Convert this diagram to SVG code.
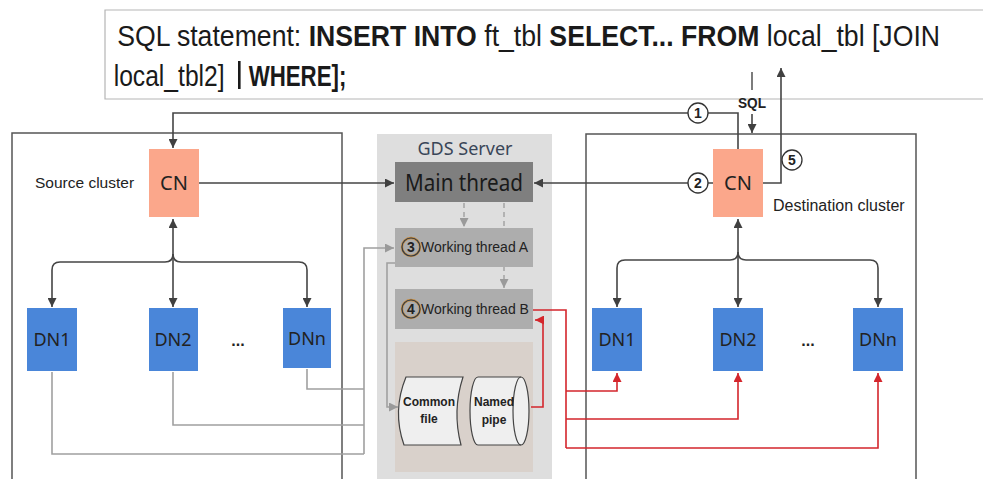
<svg xmlns="http://www.w3.org/2000/svg" width="983" height="479" viewBox="0 0 983 479">
  <defs>
    <marker id="aD" viewBox="0 0 10 10" refX="10" refY="5" markerWidth="9" markerHeight="9" markerUnits="userSpaceOnUse" orient="auto">
      <path d="M0,0 L10,5 L0,10 z" fill="#404040"/>
    </marker>
    <marker id="aG" viewBox="0 0 10 10" refX="10" refY="5" markerWidth="9" markerHeight="9" markerUnits="userSpaceOnUse" orient="auto">
      <path d="M0,0 L10,5 L0,10 z" fill="#9a9a9a"/>
    </marker>
    <marker id="aR" viewBox="0 0 10 10" refX="10" refY="5" markerWidth="9" markerHeight="9" markerUnits="userSpaceOnUse" orient="auto">
      <path d="M0,0 L10,5 L0,10 z" fill="#d4262c"/>
    </marker>
  </defs>
  <style>
    .sans { font-family: "Liberation Sans", Arial, sans-serif; }
    .hum { font-family: "Noto Sans", "Open Sans", sans-serif; }
    .hd { font-family: "Liberation Sans", Arial, sans-serif; font-size: 30px; fill: #1a1a1a; }
    .b { font-weight: bold; }
    .dk { fill: none; stroke: #454545; stroke-width: 1.6; }
    .gr { fill: none; stroke: #a0a0a0; stroke-width: 1.6; }
    .gd { fill: none; stroke: #a0a0a0; stroke-width: 1.4; stroke-dasharray: 5 4; }
    .rd { fill: none; stroke: #d4262c; stroke-width: 1.6; }
    .cn { fill: #fba78b; }
    .dn { fill: #4a86d9; }
    .lbl { fill: #222; }
    .num { fill: #fff; stroke: #333; stroke-width: 1.3; }
    .numT { font-family: "Liberation Sans", Arial, sans-serif; font-size: 14px; font-weight: bold; fill: #222; text-anchor: middle; }
  </style>

  <rect width="983" height="479" fill="#ffffff"/>

  <!-- header SQL statement -->
  <g id="header">
    <path d="M983,10 H105 V99 H983" fill="none" stroke="#b5b5b5" stroke-width="1.2"/>
    <g transform="scale(0.888,1)">
      <text class="hd" x="132" y="46">SQL statement: <tspan class="b">INSERT INTO</tspan> ft_tbl <tspan class="b">SELECT... FROM</tspan> local_tbl [JOIN</text>
      <text class="hd" x="128" y="86" textLength="125" lengthAdjust="spacingAndGlyphs">local_tbl2]</text>
      <text class="hd b" x="280" y="86" textLength="110" lengthAdjust="spacingAndGlyphs">WHERE];</text>
    </g>
    <rect x="238" y="61" width="2.6" height="28" fill="#1a1a1a"/>
  </g>

  <!-- cluster containers -->
  <g id="source-cluster">
    <path d="M12,479 V133 H342 V479" fill="none" stroke="#555" stroke-width="1.5"/>
    <text class="sans lbl" x="35" y="188" font-size="15.5">Source cluster</text>
  </g>
  <g id="destination-cluster">
    <path d="M586,479 V134 H916 V479" fill="none" stroke="#555" stroke-width="1.5"/>
    <text class="sans lbl" x="773" y="211" font-size="16">Destination cluster</text>
  </g>
  <g id="gds-server">
    <rect x="377" y="134" width="175" height="345" fill="#dedede"/>
    <text class="hum" x="465" y="155" font-size="18" fill="#3a4658" text-anchor="middle">GDS Server</text>
    <rect x="395" y="342" width="138" height="130" fill="#d9d1cb"/>
  </g>

  <!-- connectors -->
  <g id="connectors">
    <line x1="752" y1="72" x2="752" y2="90" stroke="#454545" stroke-width="1.4"/>
    <text class="sans" x="752" y="108" font-size="15" font-weight="bold" fill="#222" text-anchor="middle" textLength="28" lengthAdjust="spacingAndGlyphs">SQL</text>
    <path class="dk" d="M752,114 V133" marker-end="url(#aD)"/>
    <path class="dk" d="M738,149 V113 H173 V148" marker-end="url(#aD)"/>
    <path class="dk" d="M713,183 H534" marker-end="url(#aD)"/>
    <path class="dk" d="M763,183 H781 V68" marker-end="url(#aD)"/>
    <path class="dk" d="M199,183 H394" marker-end="url(#aD)"/>
    <path class="dk" d="M173,256 V219" marker-end="url(#aD)"/>
    <path class="dk" d="M173,256 V307" marker-end="url(#aD)"/>
    <path class="dk" d="M173,254 Q173,262 165,262 H60 Q52,262 52,270 V307" marker-end="url(#aD)"/>
    <path class="dk" d="M173,254 Q173,262 181,262 H299 Q307,262 307,270 V307" marker-end="url(#aD)"/>
    <path class="dk" d="M738,254 V219" marker-end="url(#aD)"/>
    <path class="dk" d="M738,254 V307" marker-end="url(#aD)"/>
    <path class="dk" d="M738,252 Q738,260 730,260 H625 Q617,260 617,268 V307" marker-end="url(#aD)"/>
    <path class="dk" d="M738,252 Q738,260 746,260 H870 Q878,260 878,268 V307" marker-end="url(#aD)"/>
    <path class="gd" d="M464,203 V227" marker-end="url(#aG)"/>
    <path class="gd" d="M504,203 V288" marker-end="url(#aG)"/>
    <path class="gr" d="M52,372 V454 H364"/>
    <path class="gr" d="M173,372 V425 H364"/>
    <path class="gr" d="M307,369 V389 H364"/>
    <path class="gr" d="M364,454 V248 H394" marker-end="url(#aG)"/>
    <path class="gr" d="M395,263 H387 V407 H398" marker-end="url(#aG)"/>
    <path class="rd" d="M531,407 H543 V320 H535" marker-end="url(#aR)"/>
    <path class="rd" d="M533,310 H566 V448"/>
    <path class="rd" d="M566,391 H617 V373" marker-end="url(#aR)"/>
    <path class="rd" d="M566,419 H738 V373" marker-end="url(#aR)"/>
    <path class="rd" d="M566,448 H878 V373" marker-end="url(#aR)"/>
  </g>

  <!-- source nodes -->
  <g id="src-cn">
    <rect class="cn" x="149" y="149" width="50" height="68"/>
    <text class="hum lbl" x="174" y="190" font-size="20" text-anchor="middle">CN</text>
  </g>
  <g id="src-dn1">
    <rect class="dn" x="27" y="308" width="50" height="63"/>
    <text class="hum lbl" x="52" y="346" font-size="18" text-anchor="middle">DN1</text>
  </g>
  <g id="src-dn2">
    <rect class="dn" x="149" y="308" width="49" height="63"/>
    <text class="hum lbl" x="173" y="346" font-size="18" text-anchor="middle">DN2</text>
  </g>
  <g id="src-dots">
    <text class="sans" x="238" y="346" font-size="16" font-weight="bold" fill="#222" text-anchor="middle">...</text>
  </g>
  <g id="src-dnn">
    <rect class="dn" x="283" y="308" width="48" height="60"/>
    <text class="hum lbl" x="307" y="345" font-size="18" text-anchor="middle">DNn</text>
  </g>

  <!-- GDS nodes -->
  <g id="main-thread">
    <rect x="395" y="162" width="138" height="40" fill="#7f7f7f"/>
    <text class="hum" x="464" y="191" font-size="23" fill="#1a1a1a" text-anchor="middle" textLength="118" lengthAdjust="spacingAndGlyphs">Main thread</text>
  </g>
  <g id="working-thread-a">
    <rect x="395" y="228" width="138" height="39" fill="#adadad"/>
    <circle cx="411" cy="247" r="9" fill="none" stroke="#c88a3a" stroke-width="2.4"/>
    <circle cx="411" cy="247" r="9" fill="none" stroke="#2d3a4a" stroke-width="1.2"/>
    <text class="numT" x="411" y="252">3</text>
    <text class="sans lbl" x="421" y="252" font-size="14">Working thread A</text>
  </g>
  <g id="working-thread-b">
    <rect x="395" y="289" width="138" height="40" fill="#adadad"/>
    <circle cx="411" cy="309" r="9" fill="none" stroke="#c88a3a" stroke-width="2.4"/>
    <circle cx="411" cy="309" r="9" fill="none" stroke="#2d3a4a" stroke-width="1.2"/>
    <text class="numT" x="411" y="314">4</text>
    <text class="sans lbl" x="421" y="314" font-size="14">Working thread B</text>
  </g>
  <g id="common-file">
    <path d="M406,377 H463 Q452,411 461,445 H404 Q392,411 406,377 Z" fill="#efefef" stroke="#444" stroke-width="1.2"/>
    <text class="sans" x="429" y="406" font-size="12" font-weight="bold" fill="#222" text-anchor="middle">Common</text>
    <text class="sans" x="429" y="423" font-size="12" font-weight="bold" fill="#222" text-anchor="middle">file</text>
  </g>
  <g id="named-pipe">
    <path d="M478,377 H521 A8,34 0 0 1 521,445 H478 A8,34 0 0 1 478,377 Z" fill="#efefef" stroke="#444" stroke-width="1.2"/>
    <path d="M521,377 A8,34 0 0 0 521,445" fill="none" stroke="#444" stroke-width="1.2"/>
    <text class="sans" x="494" y="406" font-size="12" font-weight="bold" fill="#222" text-anchor="middle">Named</text>
    <text class="sans" x="494" y="424" font-size="12" font-weight="bold" fill="#222" text-anchor="middle">pipe</text>
  </g>

  <!-- destination nodes -->
  <g id="dst-cn">
    <rect class="cn" x="713" y="149" width="50" height="68"/>
    <text class="hum lbl" x="738" y="190" font-size="20" text-anchor="middle">CN</text>
  </g>
  <g id="dst-dn1">
    <rect class="dn" x="592" y="308" width="50" height="63"/>
    <text class="hum lbl" x="617" y="346" font-size="18" text-anchor="middle">DN1</text>
  </g>
  <g id="dst-dn2">
    <rect class="dn" x="713" y="308" width="50" height="63"/>
    <text class="hum lbl" x="738" y="346" font-size="18" text-anchor="middle">DN2</text>
  </g>
  <g id="dst-dots">
    <text class="sans" x="808" y="346" font-size="16" font-weight="bold" fill="#222" text-anchor="middle">...</text>
  </g>
  <g id="dst-dnn">
    <rect class="dn" x="853" y="308" width="50" height="63"/>
    <text class="hum lbl" x="878" y="346" font-size="18" text-anchor="middle">DNn</text>
  </g>

  <!-- step markers -->
  <g id="step-1">
    <circle class="num" cx="698" cy="113" r="10"/>
    <text class="numT" x="698" y="118">1</text>
  </g>
  <g id="step-2">
    <circle class="num" cx="698" cy="183" r="10"/>
    <text class="numT" x="698" y="188">2</text>
  </g>
  <g id="step-5">
    <circle class="num" cx="792" cy="160" r="10"/>
    <text class="numT" x="792" y="165">5</text>
  </g>
</svg>
